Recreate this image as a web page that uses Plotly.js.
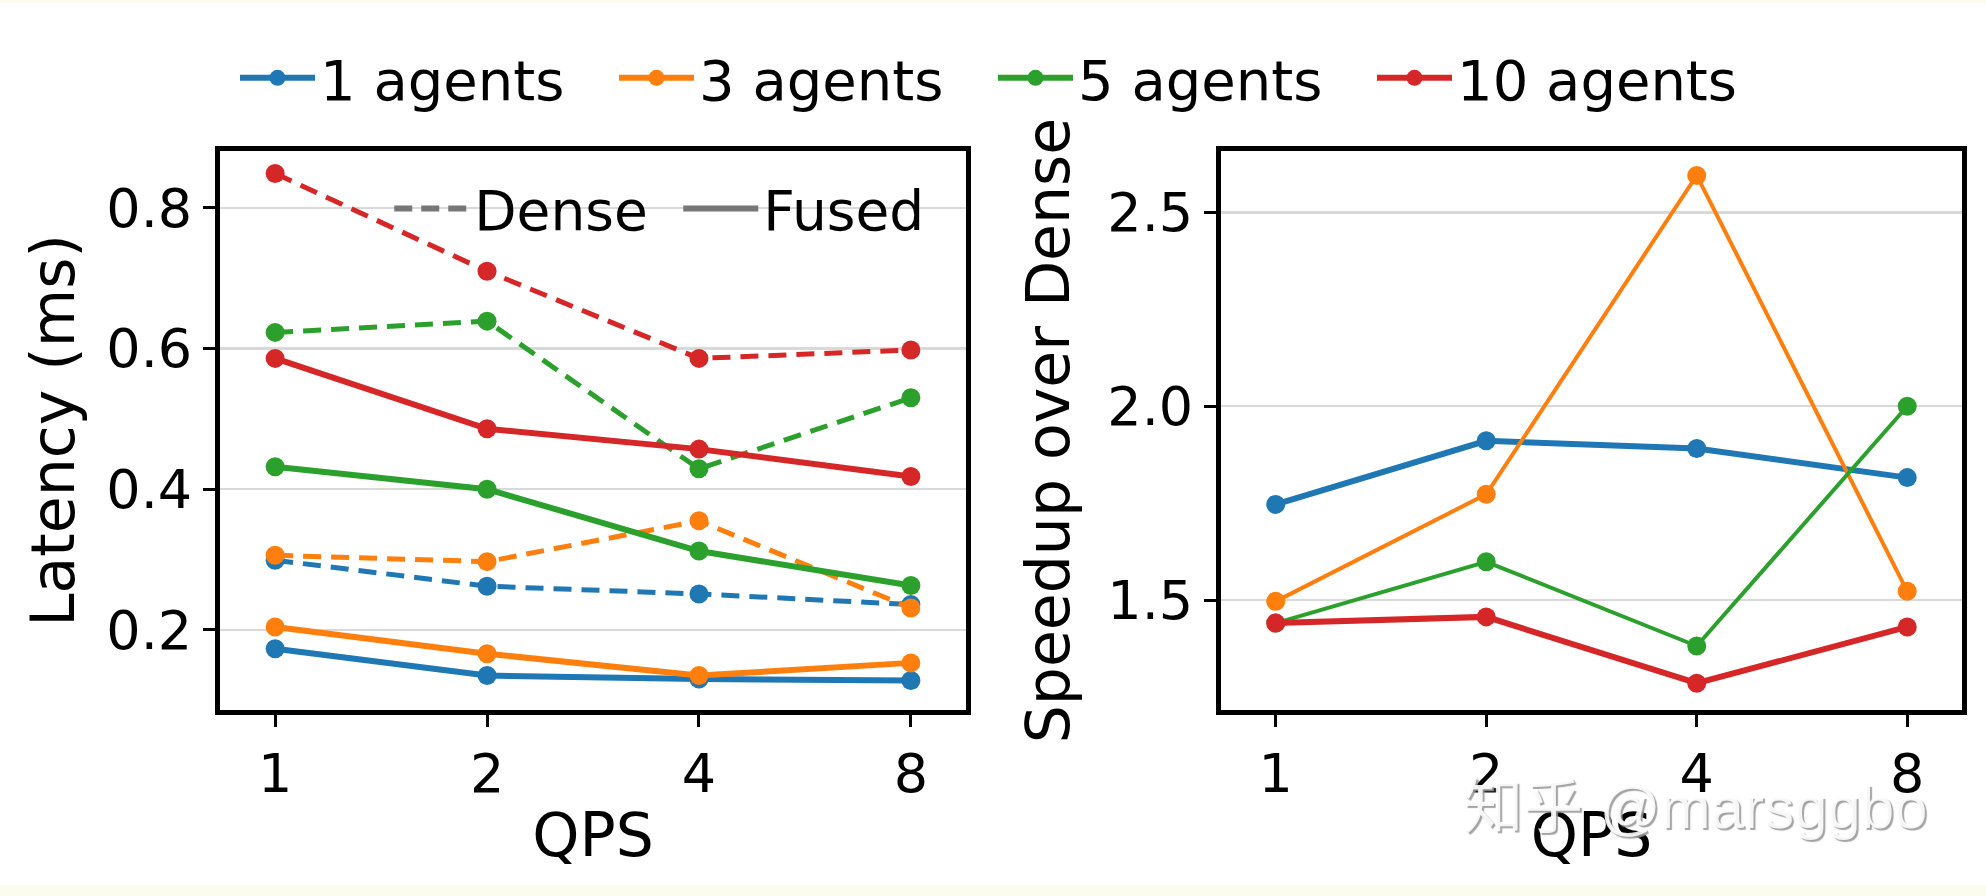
<!DOCTYPE html>
<html>
<head>
<meta charset="utf-8">
<script src="https://cdn.plot.ly/plotly-3.0.1.min.js"></script>
<style>
  html, body { margin: 0; padding: 0; background: #fbfbee; }
  #chart { width: 1986px; height: 896px; }
</style>
</head>
<body>
<div id="chart"></div>
<script>
// QPS categories
const qps = ["1", "2", "4", "8"];
const agentNames = ["1 agents", "3 agents", "5 agents", "10 agents"];
const colores = ["#1f77b4", "#ff7f0e", "#2ca02c", "#d62728"];

// latency (ms), left panel
const denseLat = [
    [0.299, 0.262, 0.251, 0.236],
    [0.306, 0.297, 0.355, 0.231],
    [0.623, 0.639, 0.429, 0.530],
    [0.849, 0.710, 0.586, 0.598]
];
const fusedLat = [
    [0.173, 0.135, 0.130, 0.128],
    [0.204, 0.166, 0.135, 0.153],
    [0.432, 0.400, 0.312, 0.263],
    [0.586, 0.486, 0.457, 0.418]
];

// speedup over dense, right panel
const speedup = [
    [1.747, 1.911, 1.891, 1.816],
    [1.497, 1.773, 2.595, 1.523],
    [1.441, 1.599, 1.382, 2.000],
    [1.441, 1.457, 1.286, 1.431]
];

const fuente = "DejaVu Sans, sans-serif";
const guiones = "18px,10px";
const traces = [];

for (let i = 0; i < agentNames.length; i++) {
    traces.push({
        x: qps, y: denseLat[i], xaxis: "x", yaxis: "y",
        mode: "lines+markers", showlegend: false,
        line: { color: colores[i], width: 5, dash: guiones },
        marker: { color: colores[i], size: 19 }
    });
}
for (let i = 0; i < agentNames.length; i++) {
    traces.push({
        x: qps, y: fusedLat[i], xaxis: "x", yaxis: "y",
        name: agentNames[i], legend: "legend",
        mode: "lines+markers",
        line: { color: colores[i], width: 6 },
        marker: { color: colores[i], size: 19 }
    });
}
for (let i = 0; i < agentNames.length; i++) {
    traces.push({
        x: qps, y: speedup[i], xaxis: "x2", yaxis: "y2",
        mode: "lines+markers", showlegend: false,
        line: { color: colores[i], width: (i === 0 || i === 3) ? 6 : 4 },
        marker: { color: colores[i], size: 19 }
    });
}

// line style legend (Dense / Fused)
traces.push({
    x: [null], y: [null], xaxis: "x", yaxis: "y", name: "Dense", legend: "legend2",
    mode: "lines", line: { color: "#777777", width: 6, dash: "18px,9px" }
});
traces.push({
    x: [null], y: [null], xaxis: "x", yaxis: "y", name: "Fused", legend: "legend2",
    mode: "lines", line: { color: "#777777", width: 6 }
});

const ejeX = {
    type: "category", range: [-0.26, 3.26],
    showline: true, mirror: true, linecolor: "black", linewidth: 5,
    ticks: "outside", ticklen: 12, tickwidth: 3, tickcolor: "black",
    showgrid: false, zeroline: false,
    tickfont: { family: fuente, size: 54, color: "black" },
    title: { text: "QPS", font: { family: fuente, size: 60, color: "black" }, standoff: 12 }
};

const layout = {
    width: 1986, height: 896,
    margin: { l: 0, r: 0, t: 0, b: 0 },
    paper_bgcolor: "white", plot_bgcolor: "white",
    font: { family: fuente, color: "black" },
    xaxis: Object.assign({}, ejeX, { domain: [0.1108, 0.4864], anchor: "y" }),
    xaxis2: Object.assign({}, ejeX, { domain: [0.6148, 0.9879], anchor: "y2" }),
    yaxis: {
        domain: [0.2076, 0.8315], anchor: "x", range: [0.086, 0.881],
        tickvals: [0.2, 0.4, 0.6, 0.8], tickformat: ".1f",
        showline: true, mirror: true, linecolor: "black", linewidth: 5,
        ticks: "outside", ticklen: 12, tickwidth: 3, tickcolor: "black",
        showgrid: true, gridcolor: "#d9d9d9", gridwidth: 2.5, zeroline: false,
        tickfont: { family: fuente, size: 54, color: "black" },
        title: { text: "Latency (ms)", font: { family: fuente, size: 60, color: "black" }, standoff: 14 }
    },
    yaxis2: {
        domain: [0.2076, 0.8315], anchor: "x2", range: [1.217, 2.658],
        tickvals: [1.5, 2.0, 2.5], tickformat: ".1f",
        showline: true, mirror: true, linecolor: "black", linewidth: 5,
        ticks: "outside", ticklen: 12, tickwidth: 3, tickcolor: "black",
        showgrid: true, gridcolor: "#d9d9d9", gridwidth: 2.5, zeroline: false,
        tickfont: { family: fuente, size: 54, color: "black" },
        title: { text: "Speedup over Dense", font: { family: fuente, size: 60, color: "black" }, standoff: 20 }
    },
    legend: {
        orientation: "h", x: 0.5, xanchor: "center", y: 0.913, yanchor: "middle",
        bgcolor: "rgba(0,0,0,0)", itemwidth: 75,
        entrywidth: 289, entrywidthmode: "pixels",
        font: { family: fuente, size: 56, color: "black" }
    },
    legend2: {
        orientation: "h", x: 0.196, xanchor: "left", y: 0.767, yanchor: "middle",
        bgcolor: "rgba(0,0,0,0)", itemwidth: 75,
        entrywidth: 199, entrywidthmode: "pixels",
        font: { family: fuente, size: 55, color: "black" }
    },
    shapes: [
        { type: "rect", xref: "paper", yref: "paper", x0: 0, x1: 1, y0: 0, y1: 11 / 896,
          fillcolor: "#fbfbee", line: { width: 0 }, layer: "below" },
        { type: "rect", xref: "paper", yref: "paper", x0: 0, x1: 1, y0: 1 - 3 / 896, y1: 1,
          fillcolor: "#fbfbee", line: { width: 0 }, layer: "below" }
    ],
    annotations: [{
        text: "知乎 @marsggbo", xref: "paper", yref: "paper",
        x: 0.7357, y: 1 - 807 / 896, xanchor: "left", yanchor: "middle", showarrow: false,
        font: { family: "Liberation Sans, Noto Sans CJK SC, sans-serif", size: 60,
                color: "rgba(255,255,255,0.9)", shadow: "2px 2px 1px #999999" }
    }]
};

Plotly.newPlot("chart", traces, layout, { staticPlot: true });
</script>
</body>
</html>
